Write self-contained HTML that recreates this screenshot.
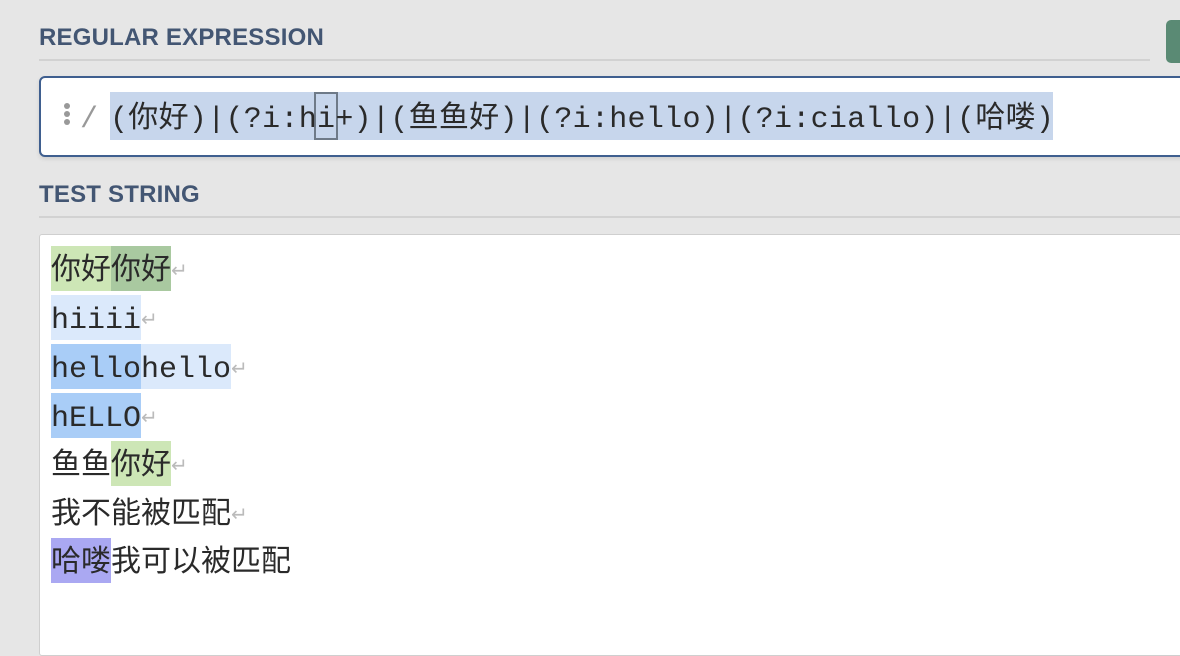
<!DOCTYPE html>
<html><head><meta charset="utf-8"><style>
html,body{margin:0;padding:0}
body{width:1180px;height:628px;background:#e6e6e6;position:relative;overflow:hidden;font-family:"Liberation Sans","Noto Sans CJK SC",sans-serif}
.h{position:absolute;left:39px;font-weight:bold;font-size:24px;color:#435673;letter-spacing:0.2px}
.rule{position:absolute;left:39px;height:2px;background:#d2d2d2}
.mono{font-family:"Liberation Mono","Noto Sans CJK SC",monospace;font-size:30px;color:#2a2a2a;white-space:pre}
.line{position:absolute;left:51px;height:45px;line-height:53px}
.line span{display:inline-block;height:45px;vertical-align:top}
.ret{color:#bbb;font-size:20px}
</style></head><body>
<div class="h" style="top:24px">REGULAR EXPRESSION</div>
<div class="rule" style="top:59px;width:1111px"></div>
<div style="position:absolute;left:1166px;top:20px;width:30px;height:43px;background:#5a8a74;border-radius:5px"></div>
<div style="position:absolute;left:39px;top:76px;width:1160px;height:77px;background:#fff;border:2px solid #3f5f8f;border-radius:6px;box-shadow:0 2px 4px rgba(0,0,0,.1)"></div>
<div style="position:absolute;left:64px;top:103px;width:6px;height:6px;border-radius:3px;background:#999;box-shadow:0 8px 0 #999,0 16px 0 #999"></div>
<div class="mono" style="position:absolute;left:80px;top:98px;line-height:45px;color:#999">/</div>
<div style="position:absolute;left:110px;top:92px;width:943px;height:48px;background:#c7d6ec"></div>
<div style="position:absolute;left:314px;top:92px;width:20px;height:44px;border:2px solid #6e7a88"></div>
<div class="mono" style="position:absolute;left:110px;top:98px;line-height:45px;letter-spacing:0.3px">(你好)|(?i:hi+)|(鱼鱼好)|(?i:hello)|(?i:ciallo)|(哈喽)</div>

<div class="h" style="top:181px">TEST STRING</div>
<div class="rule" style="top:216px;width:1141px"></div>
<div style="position:absolute;left:39px;top:234px;width:1160px;height:420px;background:#fff;border:1px solid #cfcfcf;border-radius:3px"></div>

<div class="line mono" style="top:246px"><span style="background:#cde6b6">你好</span><span style="background:#a9c9a0">你好</span><span class="ret">↵</span></div>
<div class="line mono" style="top:295px"><span style="background:#dbe9fb">hiiii</span><span class="ret">↵</span></div>
<div class="line mono" style="top:344px"><span style="background:#a9cdf7">hello</span><span style="background:#dbe9fb">hello</span><span class="ret">↵</span></div>
<div class="line mono" style="top:393px"><span style="background:#a9cdf7">hELLO</span><span class="ret">↵</span></div>
<div class="line mono" style="top:441px"><span>鱼鱼</span><span style="background:#cde6b6">你好</span><span class="ret">↵</span></div>
<div class="line mono" style="top:490px"><span>我不能被匹配</span><span class="ret">↵</span></div>
<div class="line mono" style="top:538px"><span style="background:#aaa8f2">哈喽</span><span>我可以被匹配</span></div>
</body></html>
